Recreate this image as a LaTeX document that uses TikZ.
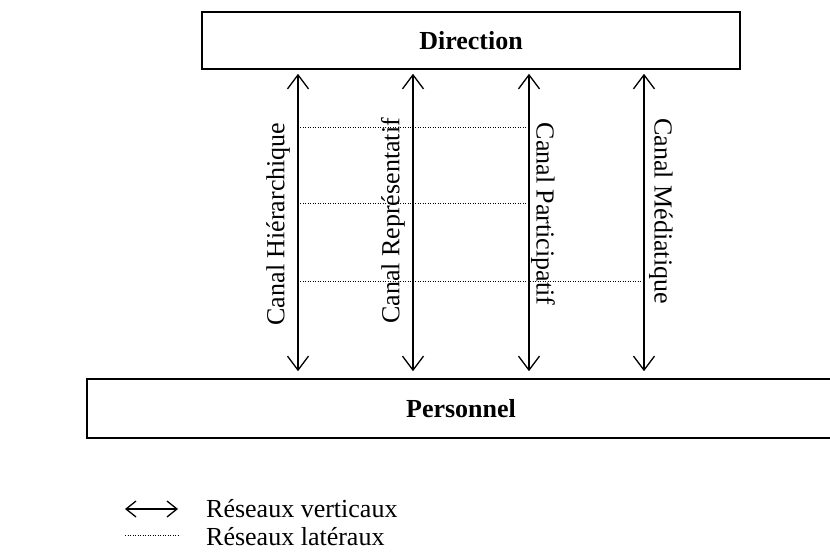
\documentclass[tikz,border=0pt]{standalone}
\usepackage{fontspec}
\setmainfont{Liberation Serif}
\usetikzlibrary{arrows.meta}
\begin{document}
\begin{tikzpicture}[x=1pt,y=-1pt,
  txt/.style={font=\fontsize{26}{30}\selectfont, inner sep=0pt},
  box/.style={draw, line width=1.6pt, txt, font=\fontsize{26}{30}\selectfont\bfseries},
  vert/.style={line width=1.3pt, {Straight Barb[length=14pt,width=21pt,line width=1.3pt]}-{Straight Barb[length=14pt,width=21pt,line width=1.3pt]}},
  legvert/.style={line width=1.3pt, {Straight Barb[length=10pt,width=16pt,line width=1.3pt]}-{Straight Barb[length=10pt,width=16pt,line width=1.3pt]}},
  lat/.style={line width=1pt, dash pattern=on 1pt off 1.5pt}]
\useasboundingbox (0,0) rectangle (830,552);
\node[box, minimum width=538pt, minimum height=57pt] (dir) at (471,40.5) {Direction};
\node[box, minimum width=748pt, minimum height=59pt] (pers) at (461,408.5) {Personnel};
% columns
\coordinate (c1) at (298,0);
\coordinate (c2) at (413,0);
\coordinate (c3) at (529,0);
\coordinate (c4) at (644,0);
\foreach \c in {c1,c2,c3,c4}{
  \draw[vert] ([yshift=-4pt]dir.south -| \c) -- ([yshift=7pt]pers.north -| \c);
}
% lateral networks
\coordinate (r1) at (0,127);
\coordinate (r2) at (0,203);
\coordinate (r3) at (0,281);
\draw[lat] ([xshift=2pt]r1 -| c1) -- ([xshift=-1pt]r1 -| c3);
\draw[lat] ([xshift=2pt]r2 -| c1) -- ([xshift=-1pt]r2 -| c3);
\draw[lat] ([xshift=2pt]r3 -| c1) -- ([xshift=-1pt]r3 -| c4);
% labels
\node[txt, rotate=90] (l1) at (278,224) {Canal Hiérarchique};
\node[txt, rotate=90] (l2) at (393,221) {Canal Représentatif};
\node[txt, rotate=-90] (l3) at (543,214) {Canal Participatif};
\node[txt, rotate=-90] (l4) at (661,211) {Canal Médiatique};
% legend
\coordinate (la) at (125,509);
\coordinate (lb) at (178,509);
\coordinate (lc) at (125,535);
\coordinate (ld) at (178,535);
\draw[legvert] (la) -- (lb);
\draw[lat] (lc) -- (ld);
\node[txt, anchor=base west] (t1) at (206,517) {Réseaux verticaux};
\node[txt, anchor=base west] (t2) at (206,545) {Réseaux latéraux};
\end{tikzpicture}
\end{document}
